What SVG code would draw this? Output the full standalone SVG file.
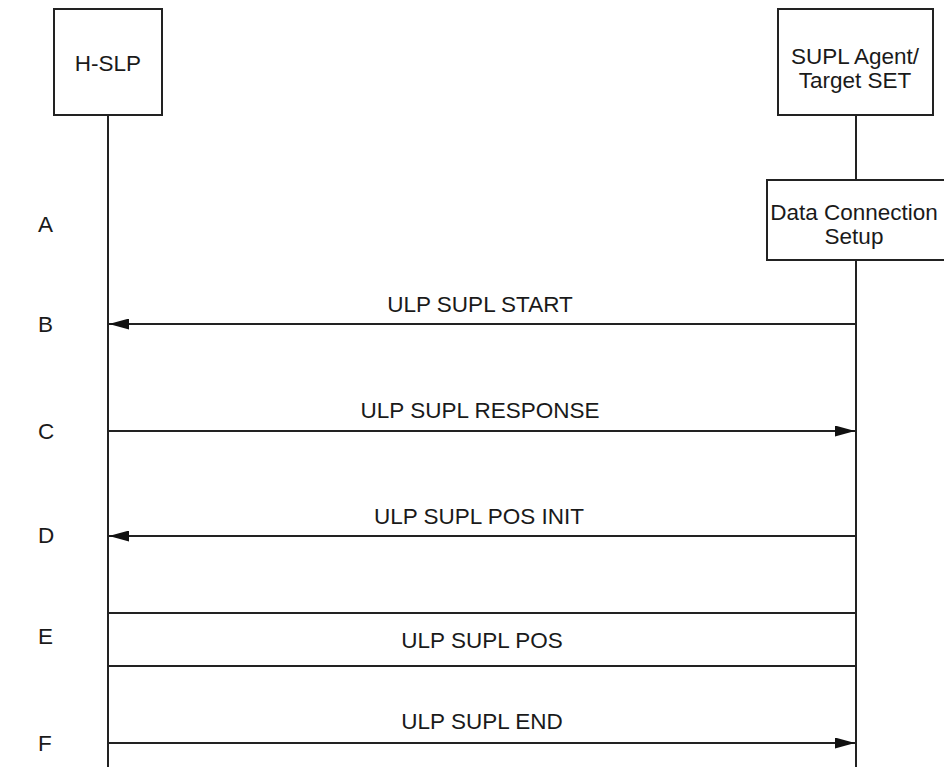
<svg xmlns="http://www.w3.org/2000/svg" width="944" height="767" viewBox="0 0 944 767">
<style>
.box{fill:#fff;stroke:#222;stroke-width:2}
.ln{stroke:#222;stroke-width:2;fill:none}
text{font-family:"Liberation Sans",Arial,sans-serif;font-size:22.5px;fill:#1a1a1a}
.c{text-anchor:middle}
</style>
<defs>
<marker id="ah" markerWidth="20" markerHeight="11" refX="20" refY="5.5" orient="auto" markerUnits="userSpaceOnUse">
<path d="M0,0 L20,5.5 L0,11 Z" fill="#111"/>
</marker>
</defs>
<g id="connectors">
<line class="ln" x1="108" y1="115" x2="108" y2="767"/>
<line class="ln" x1="856" y1="115" x2="856" y2="180"/>
<line class="ln" x1="856" y1="260" x2="856" y2="767"/>
<line class="ln" x1="856" y1="324" x2="109" y2="324" marker-end="url(#ah)"/>
<line class="ln" x1="108" y1="431" x2="855" y2="431" marker-end="url(#ah)"/>
<line class="ln" x1="856" y1="536" x2="109" y2="536" marker-end="url(#ah)"/>
<line class="ln" x1="108" y1="613" x2="856" y2="613"/>
<line class="ln" x1="108" y1="666" x2="856" y2="666"/>
<line class="ln" x1="108" y1="743" x2="855" y2="743" marker-end="url(#ah)"/>
</g>
<g id="hslp">
<rect class="box" x="54" y="9" width="108" height="106"/>
<text class="c" x="108" y="71">H-SLP</text>
</g>
<g id="supl">
<rect class="box" x="778" y="9" width="155" height="106"/>
<text class="c" x="855" y="64">SUPL Agent/</text>
<text class="c" x="855" y="88">Target SET</text>
</g>
<g id="dcs">
<rect class="box" x="767" y="180" width="180" height="80"/>
<text class="c" x="854" y="220">Data Connection</text>
<text class="c" x="854" y="244">Setup</text>
</g>
<g id="labels">
<text x="38" y="232">A</text>
<text x="38" y="332">B</text>
<text x="38" y="439">C</text>
<text x="38" y="543">D</text>
<text x="38" y="644">E</text>
<text x="38" y="751">F</text>
<text class="c" x="480" y="312">ULP SUPL START</text>
<text class="c" x="480" y="418">ULP SUPL RESPONSE</text>
<text class="c" x="479" y="524">ULP SUPL POS INIT</text>
<text class="c" x="482" y="648">ULP SUPL POS</text>
<text class="c" x="482" y="729">ULP SUPL END</text>
</g>
</svg>
